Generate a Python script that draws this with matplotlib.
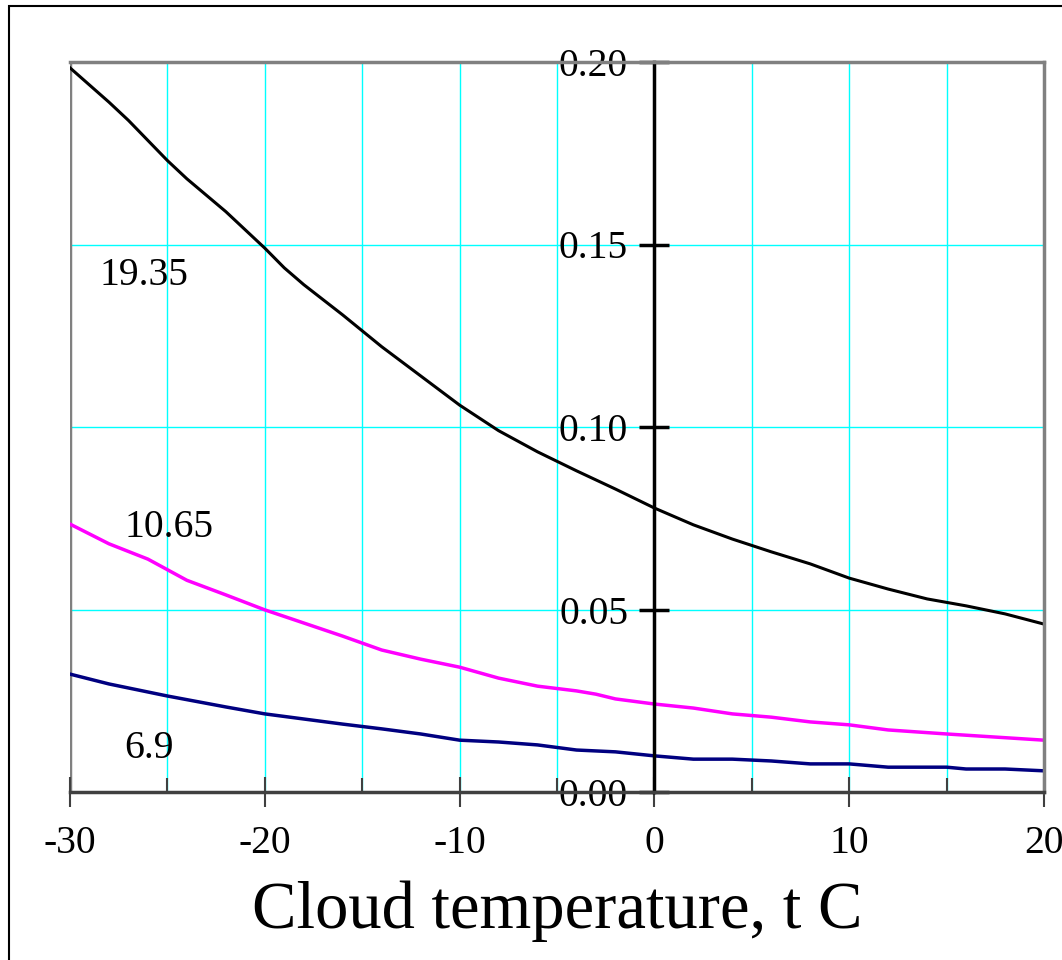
import matplotlib
matplotlib.use("Agg")
import matplotlib.pyplot as plt
from matplotlib.ticker import MultipleLocator
from matplotlib.patches import Rectangle

plt.rcParams['font.family'] = ['Liberation Serif', 'DejaVu Serif']
plt.rcParams['axes.unicode_minus'] = False

# cloud temperature, C
t_hi = [-30, -28, -27, -25, -24, -22, -20, -19, -18, -16, -14, -12, -11, -10,
        -8, -6, -4, -3, -2, 0, 2, 4, 6, 8, 10, 12, 14, 16, 18, 20]
v_hi = [0.1984, 0.189, 0.184, 0.173, 0.168, 0.159, 0.149, 0.1436, 0.139, 0.1307,
        0.122, 0.114, 0.110, 0.106, 0.099, 0.0932, 0.088, 0.0855, 0.083, 0.0778,
        0.0732, 0.0693, 0.0658, 0.0625, 0.0586, 0.0556, 0.0529, 0.051, 0.0488, 0.046]

t_mid = [-30, -28, -26, -24, -22, -20, -18, -16, -14, -12, -10, -8, -6, -4, -3,
         -2, 0, 2, 4, 6, 8, 10, 12, 15, 20]
v_mid = [0.0734, 0.068, 0.0638, 0.058, 0.054, 0.0499, 0.0463, 0.0427, 0.0389,
         0.0364, 0.0342, 0.0312, 0.029, 0.0277, 0.0268, 0.0255, 0.0241, 0.023,
         0.0214, 0.0205, 0.0192, 0.0184, 0.017, 0.0159, 0.0142]

t_lo = [-30, -28, -25, -22, -20, -18, -16, -14, -12, -10, -8, -6, -4, -2, 0,
        2, 4, 6, 8, 10, 12, 15, 16, 18, 20]
v_lo = [0.0323, 0.0296, 0.0263, 0.0233, 0.0214, 0.020, 0.0186, 0.0173, 0.0159,
        0.0142, 0.0137, 0.0129, 0.0115, 0.011, 0.0099, 0.009, 0.009, 0.0085,
        0.0077, 0.0077, 0.0068, 0.0068, 0.0063, 0.0063, 0.0058]

curve_labels = ['19.35', '10.65', '6.9']
label_pos = [(-28.5, 0.1416), (-27.2, 0.0726), (-27.2, 0.012)]

fig = plt.figure(figsize=(10.62, 9.6), dpi=100)
ax = fig.add_axes([70/1062, 168/960, 974/1062, 730/960])

ax.plot(t_hi, v_hi, color='black', lw=2.2)
ax.plot(t_mid, v_mid, color='#ff00ff', lw=2.5)
ax.plot(t_lo, v_lo, color='#000080', lw=2.5)

for txt, (x, y) in zip(curve_labels, label_pos):
    ax.text(x, y, txt, fontsize=28.5, ha='left', va='center')

ax.set_xlim(-30, 20)
ax.set_ylim(0, 0.20)

ax.xaxis.set_major_locator(MultipleLocator(10))
ax.xaxis.set_minor_locator(MultipleLocator(5))
ax.yaxis.set_major_locator(MultipleLocator(0.05))
ax.yaxis.set_major_formatter(lambda v, p: f'{v:.2f}')

for gx in range(-25, 20, 5):
    if gx != 0:
        ax.axvline(gx, color='cyan', lw=1, zorder=0)
for gy in [0.05, 0.10, 0.15]:
    ax.axhline(gy, color='cyan', lw=1, zorder=0)

ax.spines['left'].set_position(('data', 0))
ax.spines['left'].set_color('black')
ax.spines['left'].set_linewidth(2.5)
ax.spines['bottom'].set_color('#404040')
ax.spines['bottom'].set_linewidth(2.5)
for s in ['top', 'right']:
    ax.spines[s].set_color('#808080')
    ax.spines[s].set_linewidth(2.5)
# gray left border of the plot area
ax.axvline(-30, color='#808080', lw=2.5, zorder=1)

ax.tick_params(axis='y', direction='inout', length=22, width=2.5, labelsize=28.5,
               pad=8, color='black')
ax.tick_params(axis='x', which='major', direction='inout', length=22, width=1.5,
               labelsize=28.5, pad=13, color='#404040')
ax.tick_params(axis='x', which='minor', direction='in', length=10, width=1.5,
               color='#404040')

ax.set_xlabel('Cloud temperature, t C', fontsize=48, labelpad=13)

fig.patches.append(Rectangle((9/1062, -0.1), 1.2, (960-6)/960 + 0.1,
                             transform=fig.transFigure, fill=False,
                             edgecolor='black', lw=1.5))

fig.savefig('out.png', dpi=100)
